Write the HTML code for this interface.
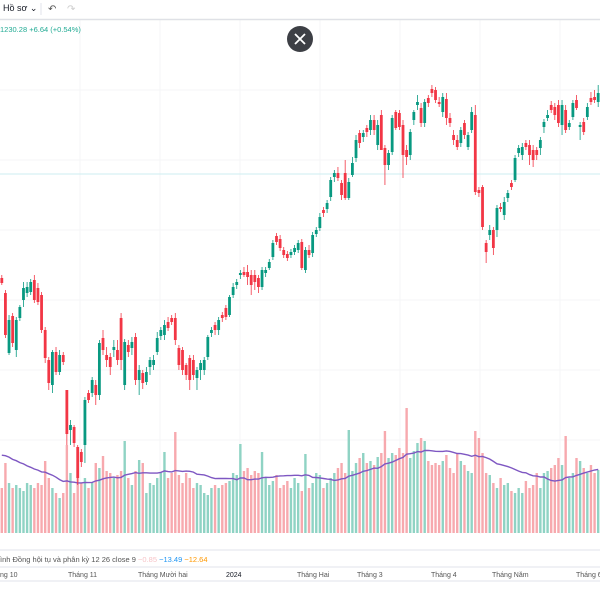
<!DOCTYPE html>
<html><head><meta charset="utf-8">
<style>
body{margin:0;width:600px;height:600px;overflow:hidden;background:#fff;font-family:"Liberation Sans","Noto Sans CJK SC",sans-serif;}
svg{position:absolute;left:0;top:0}
.t{font-family:"Liberation Sans","Noto Sans CJK SC",sans-serif}
</style></head><body>
<svg id="c" width="600" height="600">
<g stroke="#f4f5f7" stroke-width="1">
<line x1="80" y1="20" x2="80" y2="548"/><line x1="160" y1="20" x2="160" y2="548"/><line x1="240" y1="20" x2="240" y2="548"/><line x1="320" y1="20" x2="320" y2="548"/><line x1="400" y1="20" x2="400" y2="548"/><line x1="480" y1="20" x2="480" y2="548"/><line x1="560" y1="20" x2="560" y2="548"/>
<line x1="0" y1="90" x2="600" y2="90"/><line x1="0" y1="160" x2="600" y2="160"/><line x1="0" y1="230" x2="600" y2="230"/><line x1="0" y1="300" x2="600" y2="300"/><line x1="0" y1="370" x2="600" y2="370"/><line x1="0" y1="440" x2="600" y2="440"/>
</g>
<line x1="0" y1="174" x2="600" y2="174" stroke="#cdeef0" stroke-width="1"/>
<g id="vol"></g>
<path id="ma" fill="none" stroke="#7e57c2" stroke-width="1.4"/>
<g id="candles"></g>
<g>
<rect x="0" y="0" width="600" height="19" fill="#fff"/>
<text class="t" x="3" y="11" font-size="9" fill="#131722">Hồ sơ ⌄</text>
<line x1="41" y1="3" x2="41" y2="15" stroke="#e0e3eb"/>
<text class="t" x="48" y="12" font-size="10" fill="#555">↶</text>
<text class="t" x="67" y="12" font-size="10" fill="#ccc">↷</text>
<line x1="0" y1="19.5" x2="600" y2="19.5" stroke="#dfe1e6" stroke-width="1.5"/>
</g>
<text class="t" x="0" y="32" font-size="7.5" fill="#22ab94">1230.28  +6.64 (+0.54%)</text>
<g>
<circle cx="300" cy="39" r="13" fill="#3d3f45"/>
<path d="M295 34 L305 44 M305 34 L295 44" stroke="#fff" stroke-width="1.8"/>
</g>
<rect x="0" y="534" width="600" height="66" fill="#fff"/>
<line x1="0" y1="550" x2="600" y2="550" stroke="#e0e3eb"/>
<text class="t" x="0" y="562" font-size="7.5" fill="#555">ình Đồng hội tụ và phân kỳ 12 26 close 9 <tspan fill="#f7c4c8">−0.85</tspan> <tspan fill="#2196f3">−13.49</tspan> <tspan fill="#ff9800">−12.64</tspan></text>
<line x1="0" y1="567" x2="600" y2="567" stroke="#e0e3eb"/>
<g class="t" font-size="7" fill="#555">
<text x="0" y="577">ng 10</text><text x="68" y="577">Tháng 11</text><text x="138" y="577">Tháng Mười hai</text><text x="226" y="577" fill="#131722">2024</text><text x="297" y="577">Tháng Hai</text><text x="357" y="577">Tháng 3</text><text x="431" y="577">Tháng 4</text><text x="492" y="577">Tháng Năm</text><text x="576" y="577">Tháng 6</text>
</g>
<line x1="0" y1="581" x2="600" y2="581" stroke="#e0e3eb"/>
</svg>
<script>
const opens=[1047,1032,972,1009,975,1007,1025,1032,1033,1045,1037,1030,995,965,940,973,953,970,935,895,898,878,873,880,932,932,940,930,987,970,968,975,975,1007,940,980,977,988,945,952,943,958,960,973,989,990,1003,1007,1007,977,975,960,967,965,947,955,955,968,992,1000,995,1010,1017,1010,1030,1040,1050,1053,1053,1050,1050,1047,1038,1052,1057,1068,1089,1086,1075,1071,1070,1073,1075,1083,1055,1075,1072,1091,1097,1115,1116,1128,1148,1152,1142,1152,1127,1150,1167,1192,1188,1197,1195,1205,1180,1210,1177,1160,1173,1213,1212,1200,1175,1170,1205,1220,1217,1202,1227,1236,1235,1223,1213,1226,1207,1190,1185,1182,1202,1178,1195,1210,1135,1138,1082,1090,1095,1095,1118,1110,1127,1142,1145,1172,1170,1182,1180,1175,1175,1177,1198,1207,1220,1218,1220,1200,1215,1198,1208,1225,1198,1203,1208,1227,1228,1223];
const closes=[1042,990,1005,982,1005,1018,1037,1038,1043,1025,1023,995,967,942,973,953,970,963,891,900,882,847,863,925,925,945,930,982,975,965,958,978,965,965,983,973,983,945,955,942,953,965,965,987,995,1000,997,1003,985,960,955,950,945,950,955,962,965,988,995,995,1005,1007,1008,1028,1038,1043,1052,1050,1048,1040,1043,1038,1055,1055,1063,1082,1083,1077,1070,1067,1073,1077,1082,1057,1075,1070,1090,1095,1108,1112,1122,1145,1152,1147,1130,1127,1143,1162,1185,1182,1192,1193,1205,1195,1200,1175,1160,1172,1207,1197,1198,1170,1168,1193,1213,1223,1202,1223,1222,1232,1225,1221,1228,1207,1202,1185,1178,1195,1190,1190,1213,1133,1132,1098,1073,1095,1077,1117,1116,1123,1132,1138,1167,1177,1178,1178,1170,1165,1170,1185,1203,1210,1215,1210,1202,1220,1195,1202,1222,1217,1200,1193,1218,1223,1225,1232];
const highs=[1050,1035,1010,1012,1008,1020,1043,1043,1046,1050,1042,1033,998,968,975,978,975,973,935,905,900,880,876,928,935,948,945,985,995,978,972,985,985,1012,986,985,988,992,960,955,958,968,970,993,998,1005,1008,1010,1012,980,978,962,970,970,958,965,968,990,998,1003,1008,1013,1020,1030,1042,1046,1055,1058,1060,1055,1055,1050,1058,1058,1066,1085,1092,1090,1078,1074,1076,1080,1085,1086,1078,1080,1093,1098,1112,1118,1125,1148,1155,1158,1145,1165,1147,1168,1190,1195,1195,1200,1210,1210,1205,1215,1180,1175,1210,1215,1215,1205,1180,1196,1215,1230,1222,1226,1230,1240,1238,1228,1232,1232,1212,1195,1190,1198,1205,1193,1218,1220,1138,1140,1085,1100,1098,1120,1122,1128,1135,1145,1170,1180,1182,1185,1185,1180,1178,1188,1206,1215,1224,1222,1225,1225,1220,1205,1225,1230,1203,1207,1222,1233,1235,1240];
const lows=[1040,987,970,978,968,1004,1018,1028,1030,1022,1020,992,962,935,932,950,950,960,880,880,878,840,858,862,922,928,920,925,970,958,950,968,960,955,935,968,970,940,930,936,940,950,955,970,985,985,994,1000,980,955,950,945,935,945,935,945,950,965,988,990,990,1003,1005,1008,1027,1036,1046,1048,1040,1030,1035,1032,1035,1048,1055,1065,1080,1074,1067,1064,1067,1070,1072,1055,1052,1067,1068,1088,1094,1108,1112,1124,1143,1144,1125,1125,1125,1148,1163,1177,1183,1188,1190,1190,1175,1175,1140,1155,1170,1195,1195,1147,1160,1165,1200,1215,1198,1198,1218,1228,1222,1218,1208,1200,1198,1180,1175,1178,1186,1175,1192,1130,1128,1095,1062,1085,1070,1088,1113,1105,1123,1135,1143,1168,1165,1175,1160,1158,1165,1170,1192,1204,1212,1205,1198,1190,1192,1195,1205,1215,1185,1190,1205,1220,1222,1218];
const volumes=[45,70,50,45,48,45,42,50,48,45,50,48,72,55,45,40,35,40,88,60,40,55,50,55,45,50,70,65,77,62,60,55,58,62,92,55,48,62,73,70,40,50,48,55,60,81,55,60,101,58,50,60,55,45,50,48,40,38,45,48,45,48,50,52,60,58,89,62,65,58,62,60,81,55,48,52,58,45,48,52,45,55,50,42,79,45,50,60,58,45,50,55,60,65,70,60,103,62,70,75,80,70,72,68,76,80,102,75,80,78,85,80,125,75,82,90,95,92,72,68,70,68,72,78,65,60,80,72,68,62,60,102,95,80,60,58,50,45,55,48,50,42,40,45,40,52,45,48,60,45,60,62,65,68,75,68,97,55,60,75,72,65,60,68,60,63];
const priorVolumes=[85,80,78,90,75,82,70,88,76,80,72,84,78,86,74,80,82,76,79,81];

const NS='http://www.w3.org/2000/svg';
const n=closes.length, step=600/n;
function xAt(i){return 1.8+i*step;}
function yPrice(p){return 1325-p;}
function yVol(v){return 533-v;}
const cg=document.getElementById('candles'), vg=document.getElementById('vol');
for(let i=0;i<n;i++){
  const up=closes[i]>=opens[i];
  const col=up?'#089981':'#f23645';
  const x=xAt(i);
  const w=document.createElementNS(NS,'line');
  
  
  w.setAttribute('x1',x);w.setAttribute('x2',x);
  w.setAttribute('y1',yPrice(highs[i]));w.setAttribute('y2',yPrice(lows[i]));
  w.setAttribute('stroke',col);w.setAttribute('stroke-width','0.8');
  cg.appendChild(w);
  const b=document.createElementNS(NS,'rect');
  
  
  const top=yPrice(Math.max(opens[i],closes[i])), bot=yPrice(Math.min(opens[i],closes[i]));
  b.setAttribute('x',x-1.4);b.setAttribute('width',2.8);
  b.setAttribute('y',top);b.setAttribute('height',Math.max(1,bot-top));
  b.setAttribute('fill',col);
  cg.appendChild(b);
  const v=document.createElementNS(NS,'rect');
  
  
  v.setAttribute('x',x-1.2);v.setAttribute('width',2.4);
  v.setAttribute('y',yVol(volumes[i]));v.setAttribute('height',volumes[i]);
  v.setAttribute('fill',up?'#8fd3c4':'#f7a9ae');
  vg.appendChild(v);
}
const allV=priorVolumes.concat(volumes), off=priorVolumes.length;
let d='';
for(let i=0;i<n;i++){
  let sum=0;
  for(let k=i+off-19;k<=i+off;k++)sum+=allV[k];
  const m=sum/20;
  d+=(i?'L':'M')+xAt(i).toFixed(1)+' '+yVol(m).toFixed(1);
}
document.getElementById('ma').setAttribute('d',d);
</script>
</body></html>
